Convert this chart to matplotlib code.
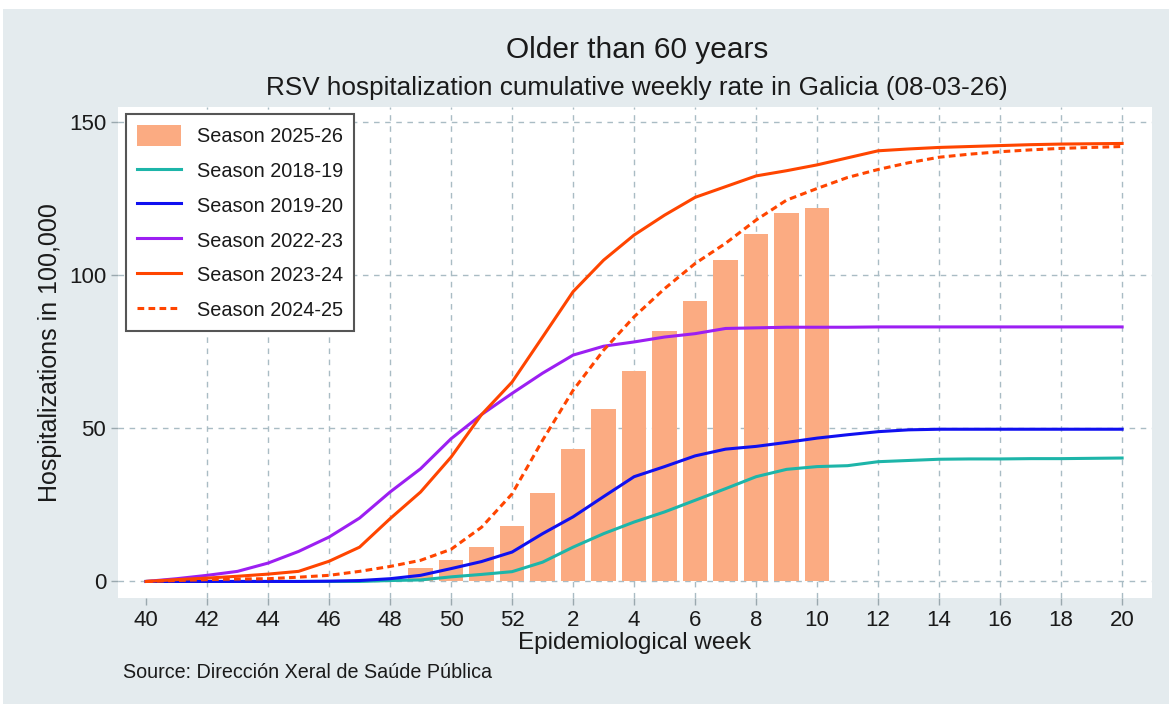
import numpy as np
import matplotlib
matplotlib.use("Agg")
import matplotlib.pyplot as plt
from matplotlib.patches import Rectangle

plt.rcParams['font.family'] = ['Liberation Sans', 'DejaVu Sans']

# epidemiological weeks, 40 -> 52 then 1 -> 20
weeks = list(range(40, 53)) + list(range(1, 21))
tick_weeks = [40, 42, 44, 46, 48, 50, 52, 2, 4, 6, 8, 10, 12, 14, 16, 18, 20]

# current season (bars)
bar_weeks = [49, 50, 51, 52, 1, 2, 3, 4, 5, 6, 7, 8, 9, 10]
s2526 = [4.3, 6.9, 11.2, 18.0, 28.9, 43.4, 56.4, 68.6, 81.8, 91.6, 104.9, 113.4, 120.2, 121.8]

# previous seasons, weeks 40..52, 1..20
s1819 = [0, 0, 0, 0, 0, 0, 0, 0, 0.3, 0.5, 1.5, 2.3, 3.2,
         6.3, 11.2, 15.6, 19.4, 22.7, 26.5, 30.3, 34.2, 36.6, 37.5, 37.8,
         39.1, 39.5, 39.9, 40.0, 40.0, 40.1, 40.1, 40.2, 40.3]
s1920 = [0, 0, 0, 0, 0, 0, 0.1, 0.3, 0.9, 2.0, 4.2, 6.5, 9.6,
         15.6, 21.1, 27.7, 34.2, 37.5, 41.0, 43.2, 44.1, 45.4, 46.8, 47.9,
         48.9, 49.5, 49.7, 49.7, 49.7, 49.7, 49.7, 49.7, 49.7]
s2223 = [0, 0.9, 2.0, 3.3, 6.0, 9.8, 14.5, 20.7, 29.2, 36.8, 46.6, 54.5, 61.4,
         68.0, 73.9, 76.8, 78.2, 79.8, 80.9, 82.6, 82.8, 83.0, 83.0, 83.0,
         83.1, 83.1, 83.1, 83.1, 83.1, 83.1, 83.1, 83.1, 83.1]
s2324 = [0, 0.6, 1.1, 1.7, 2.4, 3.3, 6.6, 11.2, 20.5, 29.2, 40.6, 54.5, 65.1,
         79.8, 94.6, 104.9, 113.1, 119.6, 125.4, 128.9, 132.4, 134.1, 136.0, 138.3,
         140.6, 141.2, 141.7, 142.0, 142.3, 142.6, 142.8, 142.9, 143.0]
s2425 = [0, 0.3, 0.6, 0.8, 0.9, 1.4, 2.0, 3.3, 4.9, 6.9, 10.5, 17.7, 28.6,
         46.1, 62.4, 75.5, 86.4, 95.6, 103.8, 110.4, 118.0, 124.5, 128.3, 131.9,
         134.5, 136.7, 138.5, 139.5, 140.3, 140.9, 141.4, 141.7, 142.0]

bg = '#e4ebee'
grid_col = '#a9bcc4'
txt = '#1a1a1a'

fig = plt.figure(figsize=(11.69, 7.04), dpi=100, facecolor='white')
fig.patches.append(Rectangle((3 / 1169, 0), 1, 1 - 9 / 704, transform=fig.transFigure,
                             facecolor=bg, edgecolor='none', zorder=-10))
ax = fig.add_axes([118 / 1169, 106 / 704, 1034 / 1169, 491 / 704])
ax.set_facecolor('white')

x = np.arange(len(weeks))
bx = [weeks.index(w) for w in bar_weeks]

bars = ax.bar(bx, s2526, width=0.8, color='#fbab82', label='Season 2025-26', zorder=2)
lw = 2.2
l1, = ax.plot(x, s1819, color='#1db5a9', lw=lw, label='Season 2018-19', zorder=3)
l2, = ax.plot(x, s1920, color='#1010f0', lw=lw, label='Season 2019-20', zorder=3)
l3, = ax.plot(x, s2223, color='#9c1ff2', lw=lw, label='Season 2022-23', zorder=3)
l4, = ax.plot(x, s2324, color='#ff4500', lw=lw, label='Season 2023-24', zorder=3)
l5, = ax.plot(x, s2425, color='#ff4500', lw=lw, ls=(0, (2.2, 1.4)), label='Season 2024-25', zorder=3)

ax.set_xlim(-0.92, 32.98)
ax.set_ylim(-5.4, 154.9)
ax.set_xticks([weeks.index(w) for w in tick_weeks])
ax.set_xticklabels([str(w) for w in tick_weeks])
ax.set_yticks([0, 50, 100, 150])

for s in ax.spines.values():
    s.set_visible(False)
ax.tick_params(axis='both', labelsize=16, colors=txt, length=5, color='#9aa8ae', width=1)
ax.tick_params(axis='x', pad=4)

ax.grid(True, ls=(0, (4, 4)), color=grid_col, lw=1, zorder=0)
ax.set_axisbelow(True)
ax.get_xgridlines()[0].set_visible(False)

ax.set_xlabel('Epidemiological week', fontsize=17.5, color=txt, labelpad=0)
ax.set_ylabel('Hospitalizations in 100,000', fontsize=18, color=txt, labelpad=5)

fig.text(0.545, 1 - 50 / 704, 'Older than 60 years', ha='center', va='center', fontsize=21.5, color=txt)
fig.text(0.545, 1 - 88 / 704, 'RSV hospitalization cumulative weekly rate in Galicia (08-03-26)',
         ha='center', va='center', fontsize=18.8, color=txt)
fig.text(123 / 1169, 1 - 672 / 704, 'Source: Dirección Xeral de Saúde Pública',
         ha='left', va='center', fontsize=14.2, color=txt)

leg = ax.legend([bars, l1, l2, l3, l4, l5],
                ['Season 2025-26', 'Season 2018-19', 'Season 2019-20',
                 'Season 2022-23', 'Season 2023-24', 'Season 2024-25'],
                loc='upper left', bbox_to_anchor=(0.008, 0.985), borderaxespad=0,
                fontsize=14.3, fancybox=False, framealpha=1, edgecolor='#555555',
                handlelength=2.2, handleheight=1.2, handletextpad=0.8,
                labelspacing=0.7, borderpad=0.55)
leg.get_frame().set_linewidth(1.5)
for t in leg.get_texts():
    t.set_color(txt)

fig.savefig('out.png', dpi=100, facecolor=fig.get_facecolor())
